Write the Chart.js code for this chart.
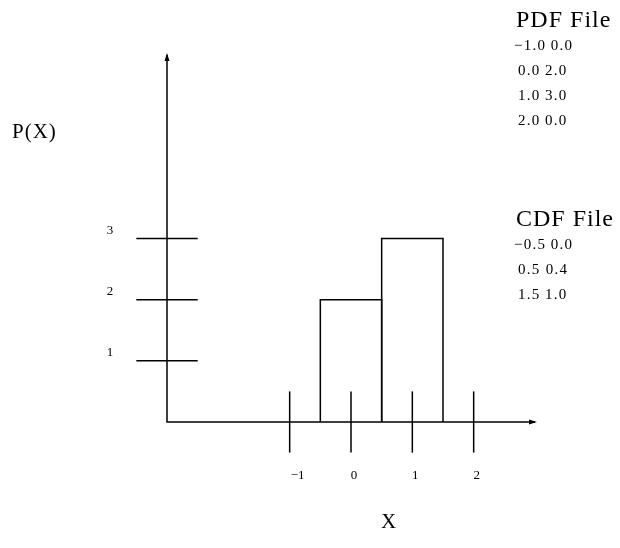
<!DOCTYPE html>
<html>
<head>
<meta charset="utf-8">
<script src="https://cdn.jsdelivr.net/npm/chart.js@4/dist/chart.umd.min.js"></script>
<style>
  html, body { margin: 0; padding: 0; background: #fff; }
  #wrap { width: 620px; height: 548px; }
</style>
</head>
<body>
<div id="wrap"><canvas id="pdfChart" width="620" height="548"></canvas></div>
<script>
// PDF file: x value and probability
const pdfX = [-1.0, 0.0, 1.0, 2.0];
const pdfY = [0.0, 2.0, 3.0, 0.0];
// CDF file
const cdfX = [-0.5, 0.5, 1.5];
const cdfY = [0.0, 0.4, 1.0];
// tick labels on the axes
const xTicks = [-1, 0, 1, 2];
const yTicks = [1, 2, 3];

const SERIF = '"Liberation Serif", "DejaVu Serif", serif';

function fmt(v) {
    return v.toFixed(1).replace('-', '\u2212');
}

// draws the hand-made axes, tick marks, bar outlines and the side text
const diagramPlugin = {
    id: 'diagram',
    afterDatasetsDraw(chart) {
        const ctx = chart.ctx;
        const xs = chart.scales.x;
        const ys = chart.scales.y;
        const x0 = xs.getPixelForValue(xs.min);
        const x1 = xs.getPixelForValue(xs.max);
        const y0 = ys.getPixelForValue(0);
        const y1 = ys.getPixelForValue(ys.max);
        const halfX = (xs.getPixelForValue(1) - xs.getPixelForValue(0)) / 2;
        const halfY = (ys.getPixelForValue(0) - ys.getPixelForValue(1)) / 2;

        ctx.save();
        ctx.strokeStyle = '#000';
        ctx.fillStyle = '#000';
        ctx.lineWidth = 1.5;

        // bar outlines
        chart.getDatasetMeta(0).data.forEach(function(bar, i) {
            if (pdfY[i] === 0) return;
            const p = bar.getProps(['x', 'y', 'width', 'base'], true);
            ctx.beginPath();
            ctx.moveTo(p.x - p.width / 2, p.base);
            ctx.lineTo(p.x - p.width / 2, p.y);
            ctx.lineTo(p.x + p.width / 2, p.y);
            ctx.lineTo(p.x + p.width / 2, p.base);
            ctx.stroke();
        });

        // axes
        ctx.beginPath();
        ctx.moveTo(x0, y1);
        ctx.lineTo(x0, y0);
        ctx.lineTo(x1, y0);
        ctx.stroke();

        // small arrow heads
        ctx.beginPath();
        ctx.moveTo(x0, y1 - 2);
        ctx.lineTo(x0 + 2.5, y1 + 6);
        ctx.lineTo(x0 - 2.5, y1 + 6);
        ctx.closePath();
        ctx.fill();
        ctx.beginPath();
        ctx.moveTo(x1 + 2, y0);
        ctx.lineTo(x1 - 6, y0 - 2.5);
        ctx.lineTo(x1 - 6, y0 + 2.5);
        ctx.closePath();
        ctx.fill();

        // y tick marks and labels
        ctx.font = '13px ' + SERIF;
        ctx.textAlign = 'center';
        ctx.textBaseline = 'middle';
        yTicks.forEach(function(t) {
            const py = ys.getPixelForValue(t);
            ctx.beginPath();
            ctx.moveTo(x0 - halfX, py);
            ctx.lineTo(x0 + halfX, py);
            ctx.stroke();
            ctx.fillText(String(t), x0 - 57, py - 8);
        });

        // x tick marks and labels
        xTicks.forEach(function(t) {
            const px = xs.getPixelForValue(t);
            ctx.beginPath();
            ctx.moveTo(px, y0 - halfY);
            ctx.lineTo(px, y0 + halfY);
            ctx.stroke();
            const label = t < 0 ? '\u2212' + Math.abs(t) : String(t);
            ctx.fillText(label, px + (t < 0 ? 8 : 3), y0 + 54);
        });

        // axis titles
        ctx.font = '21px ' + SERIF;
        ctx.letterSpacing = '1px';
        ctx.textAlign = 'left';
        ctx.fillText('P(X)', 12, 132);
        ctx.textAlign = 'center';
        ctx.fillText('X', 389, 522);

        // file listings on the right
        ctx.textAlign = 'left';
        ctx.textBaseline = 'alphabetic';
        ctx.font = '24px ' + SERIF;
        ctx.letterSpacing = '1px';
        ctx.fillText('PDF File', 516, 27);
        ctx.font = '15px ' + SERIF;
        ctx.letterSpacing = '1.3px';
        pdfX.forEach(function(v, i) {
            const txt = fmt(v) + '\u2009' + fmt(pdfY[i]);
            ctx.fillText(txt, v < 0 ? 514 : 518, 50 + i * 25);
        });
        ctx.font = '24px ' + SERIF;
        ctx.letterSpacing = '1px';
        ctx.fillText('CDF File', 516, 226);
        ctx.font = '15px ' + SERIF;
        ctx.letterSpacing = '1.3px';
        cdfX.forEach(function(v, i) {
            const txt = fmt(v) + (i === 1 ? ' ' : '\u2009') + fmt(cdfY[i]);
            ctx.fillText(txt, v < 0 ? 514 : 518, 249 + i * 25);
        });

        ctx.restore();
    }
};

new Chart(document.getElementById('pdfChart'), {
    type: 'bar',
    data: {
        datasets: [{
            label: 'PDF',
            data: pdfX.map(function(x, i) { return { x: x, y: pdfY[i] }; }),
            backgroundColor: 'rgba(0,0,0,0)',
            borderWidth: 0,
            barPercentage: 1,
            categoryPercentage: 1
        }]
    },
    options: {
        responsive: false,
        animation: false,
        layout: { padding: { left: 167, right: 85, top: 55, bottom: 126 } },
        scales: {
            x: { type: 'linear', min: -3, max: 3, offset: false, display: false },
            y: { type: 'linear', min: 0, max: 6, display: false }
        },
        plugins: {
            legend: { display: false },
            tooltip: { enabled: false }
        }
    },
    plugins: [diagramPlugin]
});
</script>
</body>
</html>
